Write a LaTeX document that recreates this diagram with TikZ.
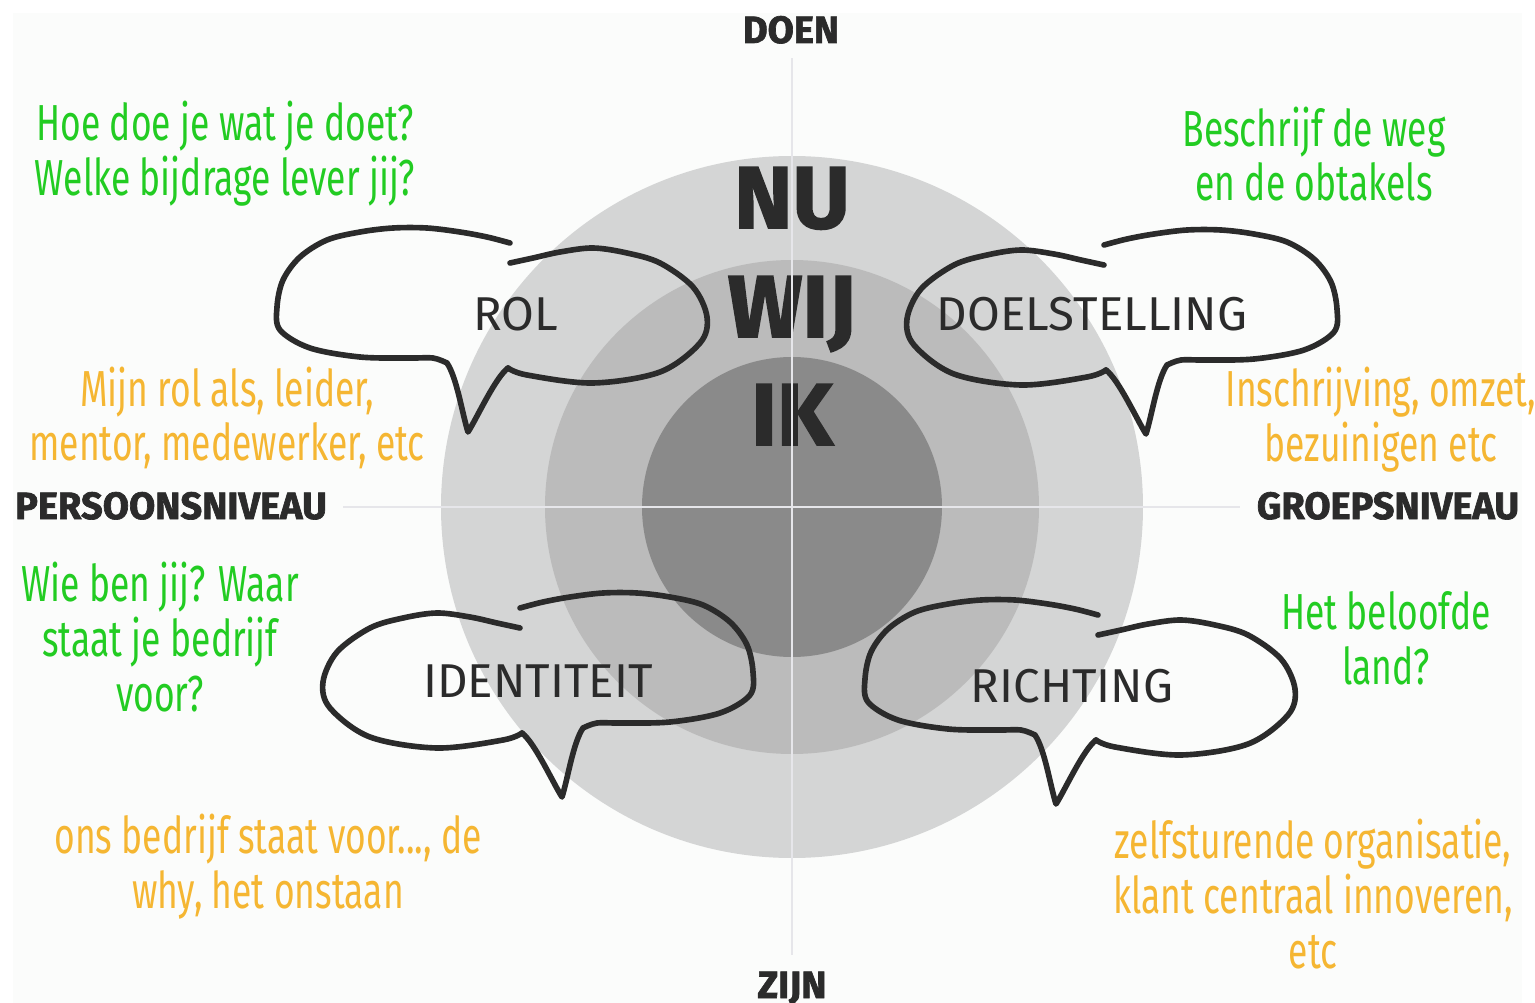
\documentclass[tikz,border=0pt]{standalone}
\usepackage{fontspec}
\usepackage{xcolor}
\setmainfont{Fira Sans}
\newfontfamily\heavyfont{Fira Sans}[BoldFeatures={FakeBold=1.8}]
\newfontfamily\lightfont{Fira Sans}
\newfontfamily\handfont{Fira Sans}[FakeStretch=0.7]
\usetikzlibrary{positioning}

\definecolor{paper}{RGB}{251,252,251}
\definecolor{ringout}{RGB}{212,213,213}
\definecolor{ringmid}{RGB}{187,187,187}
\definecolor{ringin}{RGB}{138,138,138}
\definecolor{axisgray}{RGB}{230,230,234}
\definecolor{ink}{RGB}{43,43,43}
\definecolor{handgreen}{RGB}{34,204,34}
\definecolor{handorange}{RGB}{245,182,50}

\tikzset{
  axislabel/.style={font=\heavyfont\bfseries\fontsize{10.8}{11}\selectfont, text=ink, anchor=base},
  bigword/.style={font=\heavyfont\bfseries\fontsize{25}{26}\selectfont, text=ink, anchor=base},
  bubbletext/.style={font=\lightfont\fontsize{13.5}{14}\selectfont, text=ink, anchor=base},
  note/.style={font=\handfont\fontsize{14.4}{15.6}\selectfont, align=center, inner sep=0pt},
  greennote/.style={note, text=handgreen},
  orangenote/.style={note, text=handorange},
  bubbleline/.style={draw=ink, line width=1.6pt, line cap=round, line join=round},
  axisline/.style={draw=axisgray, line width=0.85pt},
  pics/bubble/.style={code={
    \draw[bubbleline] plot[smooth, tension=0.55] coordinates {(233,15) (210,9) (183,4) (150,0) (116,0)
        (83,4) (50,12) (23,29) (6,52) (0,79) (3,102) (33,120) (83,129) (133,130) (156,130) (170,135)}
      .. controls (180,150) and (185,185) .. (191,204)
      .. controls (200,190) and (218,150) .. (231,140);
    \draw[bubbleline] plot[smooth, tension=0.55] coordinates {(231,140) (250,147) (316,155) (383,144)
        (423,115) (430,89) (416,59) (383,35) (350,25) (316,20) (283,24) (256,30) (233,35)};
  }}
}

\begin{document}
\begin{tikzpicture}[x=0.01cm, y=-0.01cm]
  \useasboundingbox (0,0) rectangle (1535,1003);
  \fill[white] (0,0) rectangle (1535,1003);
  \fill[paper] (13,13) rectangle (1522,1003);

  \coordinate (mid) at (792,507);
  \fill[ringout] (mid) circle[radius=351];
  \fill[ringmid] (mid) circle[radius=247];
  \fill[ringin] (mid) circle[radius=150];

  \node[bigword] (nu) at (792,228) {NU};
  \node[bigword] (wij) at (792,337) {WIJ};
  \node[bigword] (ik) at (792,445) {IK};

  \coordinate (doen end) at (792,58);
  \coordinate (zijn end) at (792,955);
  \coordinate (persoon end) at (343,507);
  \coordinate (groep end) at (1240,507);
  \draw[axisline] (doen end) -- (zijn end);
  \draw[axisline] (persoon end) -- (groep end);

  \node[axislabel] (doen) at (791,43) {DOEN};
  \node[axislabel] (zijn) at (792,998) {ZIJN};
  \node[axislabel] (persoon) at (171,519) {PERSOONSNIVEAU};
  \node[axislabel] (groep) at (1388,519) {GROEPSNIVEAU};

  % speech bubbles
  \pic at (277,228) {bubble};
  \pic[xscale=-1] at (1337,230) {bubble};
  \pic[xscale=-1] at (753,593) {bubble};
  \pic at (865,600) {bubble};

  \node[bubbletext] (rol) at (516,330) {ROL};
  \node[bubbletext] (doel) at (1092,330) {DOELSTELLING};
  \node[bubbletext] (ident) at (538,697) {IDENTITEIT};
  \node[bubbletext] (richting) at (1072,702) {RICHTING};

  \node[greennote] (hoe) at (225,154) {Hoe doe je wat je doet?\\Welke bijdrage lever jij?};
  \node[greennote] (weg) at (1314,154) {Beschrijf de weg\\en de obtakels};
  \node[orangenote] (mijn) at (227,418) {Mijn rol als, leider,\\mentor, medewerker, etc};
  \node[orangenote] (inschr) at (1381,420) {Inschrijving, omzet,\\bezuinigen etc};
  \node[greennote] (wie) at (160,637) {Wie ben jij? Waar\\staat je bedrijf\\voor?};
  \node[greennote] (land) at (1386,638) {Het beloofde\\land?};
  \node[orangenote] (ons) at (268,867) {ons bedrijf staat voor..., de\\why, het onstaan};
  \node[orangenote] (zelf) at (1313,894) {zelfsturende organisatie,\\klant centraal innoveren,\\etc};
\end{tikzpicture}
\end{document}
